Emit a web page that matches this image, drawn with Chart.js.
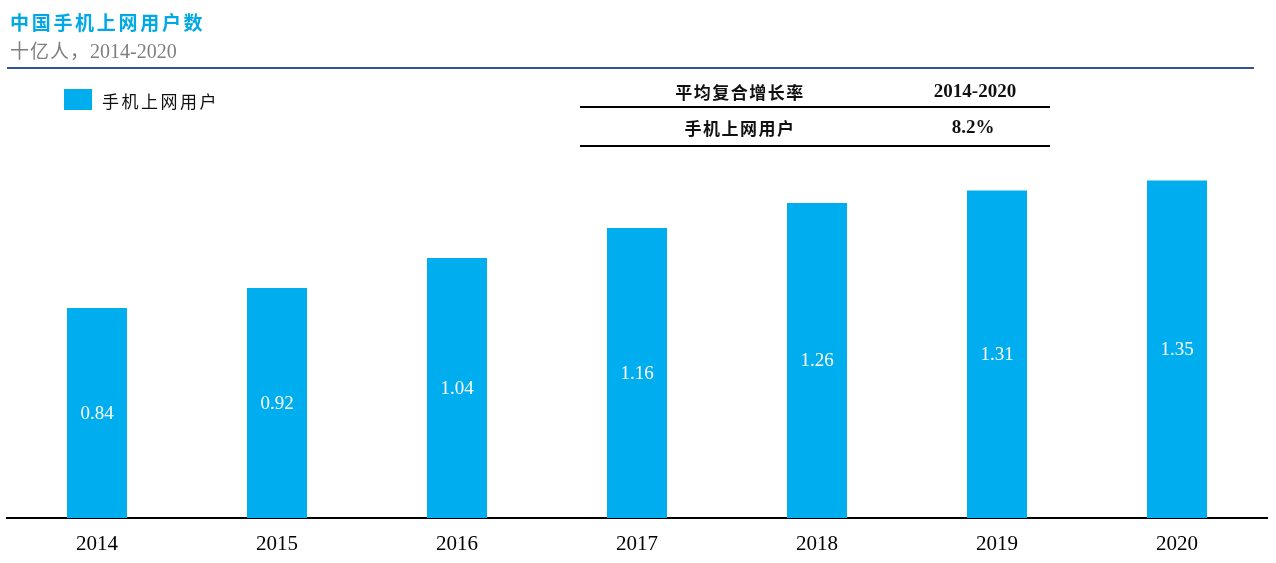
<!DOCTYPE html>
<html>
<head>
<meta charset="utf-8">
<script src="https://cdn.jsdelivr.net/npm/chart.js@4"></script>
<style>
  html, body { margin: 0; padding: 0; background: #fff; }
  #wrap { position: relative; width: 1276px; height: 563px; overflow: hidden; }
  #chart { position: absolute; left: 0; top: 0; }
  .abs { position: absolute; white-space: nowrap; }
  #title { left: 10px; top: 8px; font: bold 19px "Noto Sans CJK SC", sans-serif; color: #00A9E6; letter-spacing: 2.7px; }
  #sub { left: 10px; top: 36px; font: 20px "Liberation Serif", "Noto Sans CJK SC", serif; color: #7F7F7F; }
  #sub .cn { font-family: "Noto Sans CJK SC", sans-serif; font-size: 19px; letter-spacing: 1px; }
  #rule { left: 7px; top: 67px; width: 1247px; height: 2px; background: #2F5491; }
  #legBox { left: 64px; top: 89px; width: 28px; height: 21px; background: #00AEEF; }
  #legTxt { left: 102px; top: 88px; font: 17px "Noto Sans CJK SC", sans-serif; color: #111; letter-spacing: 2.5px; }
  .line { left: 580px; width: 470px; height: 2px; background: #000; }
  .cell { font: bold 17px "Noto Sans CJK SC", sans-serif; color: #111; text-align: center; letter-spacing: 1.5px; }
  .num { font: bold 19px "Liberation Serif", serif; color: #111; text-align: center; }
</style>
</head>
<body>
<div id="wrap">
  <canvas id="chart" width="1276" height="563"></canvas>
  <div class="abs" id="title">中国手机上网用户数</div>
  <div class="abs" id="sub"><span class="cn">十亿人，</span>2014-2020</div>
  <div class="abs" id="rule"></div>
  <div class="abs" id="legBox"></div>
  <div class="abs" id="legTxt">手机上网用户</div>
  <div class="abs cell" style="left:640px;width:200px;top:79px;">平均复合增长率</div>
  <div class="abs num" style="left:875px;width:200px;top:80px;">2014-2020</div>
  <div class="abs line" style="top:106px;"></div>
  <div class="abs cell" style="left:640px;width:200px;top:115px;">手机上网用户</div>
  <div class="abs num" style="left:873px;width:200px;top:116px;">8.2%</div>
  <div class="abs line" style="top:145px;"></div>
</div>
<script>
// categories and values (billions of mobile internet users)
const years = ['2014', '2015', '2016', '2017', '2018', '2019', '2020'];
const users = [0.84, 0.92, 1.04, 1.16, 1.26, 1.31, 1.35];

// white value labels in the middle of each bar
const barLabels = {
  id: 'barLabels',
  afterDatasetsDraw(chart) {
    const ctx = chart.ctx;
    const meta = chart.getDatasetMeta(0);
    ctx.save();
    ctx.fillStyle = '#fff';
    ctx.font = '19px "Liberation Serif", serif';
    ctx.textAlign = 'center';
    ctx.textBaseline = 'middle';
    meta.data.forEach(function (bar, i) {
      ctx.fillText(users[i].toFixed(2), bar.x, (bar.y + bar.base) / 2 + 1);
    });
    ctx.restore();
  }
};

const ctx = document.getElementById('chart').getContext('2d');
new Chart(ctx, {
  type: 'bar',
  data: {
    labels: years,
    datasets: [{
      label: '手机上网用户',
      data: users,
      backgroundColor: '#00AEEF',
      borderWidth: 0,
      barPercentage: 1 / 3,
      categoryPercentage: 1
    }]
  },
  options: {
    responsive: false,
    animation: false,
    layout: { padding: { left: 7, right: 9, top: 18, bottom: 0 } },
    plugins: {
      legend: { display: false },
      tooltip: { enabled: false }
    },
    scales: {
      x: {
        grid: { display: false, drawTicks: false },
        border: { display: true, color: '#000', width: 2 },
        ticks: {
          color: '#000',
          font: { family: '"Liberation Serif", serif', size: 21 },
          padding: 14
        },
        afterFit(scale) { scale.height = 45; }
      },
      y: {
        display: false,
        min: 0,
        max: 2.0
      }
    }
  },
  plugins: [barLabels]
});
</script>
</body>
</html>
